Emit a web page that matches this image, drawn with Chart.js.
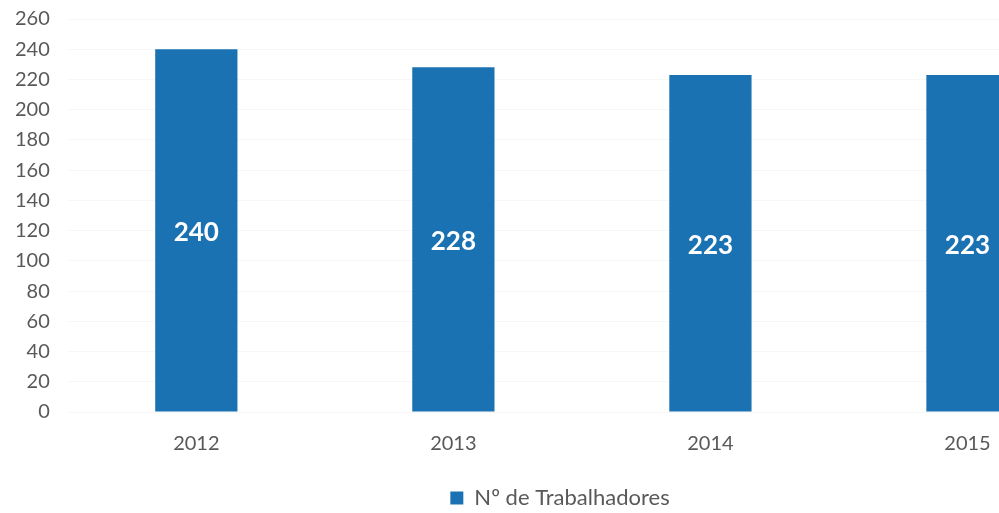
<!DOCTYPE html>
<html>
<head>
<meta charset="utf-8">
<script src="https://cdn.jsdelivr.net/npm/chart.js@4/dist/chart.umd.min.js"></script>
<style>
  html, body { margin: 0; padding: 0; background: #fff; overflow: hidden; }
  #wrap { width: 1128px; height: 532px; margin-top: -11px; margin-left: -5px; }
</style>
</head>
<body>
<div id="wrap"><canvas id="myChart" width="1128" height="532"></canvas></div>
<script>
const years = ['2012', '2013', '2014', '2015'];
const trabalhadores = [240, 228, 223, 223];
const yTicks = [0, 20, 40, 60, 80, 100, 120, 140, 160, 180, 200, 220, 240, 260];
const serieNome = 'Nº de Trabalhadores';

// draws the value in the middle of each bar
const valorNoMeio = {
  id: 'valorNoMeio',
  afterDatasetsDraw(chart) {
    const ctx = chart.ctx;
    const meta = chart.getDatasetMeta(0);
    ctx.save();
    ctx.fillStyle = '#ffffff';
    ctx.font = 'bold 26px Lato';
    ctx.textAlign = 'center';
    ctx.textBaseline = 'middle';
    meta.data.forEach(function (bar, i) {
      const meio = (bar.y + bar.base) / 2;
      ctx.fillText(trabalhadores[i], bar.x, meio + 2);
    });
    ctx.restore();
  }
};

const data = {
  labels: years,
  datasets: [{
    label: serieNome,
    backgroundColor: '#1a72b3',
    borderWidth: 0,
    data: trabalhadores,
    barPercentage: 0.32,
    categoryPercentage: 1.0
  }]
};

const config = {
  type: 'bar',
  data: data,
  plugins: [valorNoMeio],
  options: {
    responsive: false,
    animation: false,
    layout: { padding: { left: 2, top: 0, right: 0, bottom: 2 } },
    plugins: {
      tooltip: { enabled: false },
      legend: {
        position: 'bottom',
        labels: {
          color: '#595959',
          font: { family: 'Lato', size: 22 },
          boxWidth: 13,
          boxHeight: 13,
          padding: 19
        }
      }
    },
    scales: {
      x: {
        grid: { display: false },
        border: { display: false },
        ticks: { color: '#595959', font: { family: 'Lato', size: 20 }, padding: 12 }
      },
      y: {
        min: 0,
        max: 260,
        afterBuildTicks: function (axis) { axis.ticks = yTicks.map(v => ({ value: v })); },
        grid: { color: 'rgba(0,0,0,0.03)', drawTicks: false },
        border: { display: false },
        ticks: { color: '#595959', font: { family: 'Lato', size: 20 }, padding: 18 }
      },
      // empty space on the right so the legend sits where the original has it
      espaco: {
        type: 'linear',
        position: 'right',
        grid: { display: false },
        border: { display: false },
        ticks: { display: false },
        afterFit: function (axis) { axis.width = 27; }
      }
    }
  }
};

const myChart = new Chart(document.getElementById('myChart'), config);
</script>
</body>
</html>
